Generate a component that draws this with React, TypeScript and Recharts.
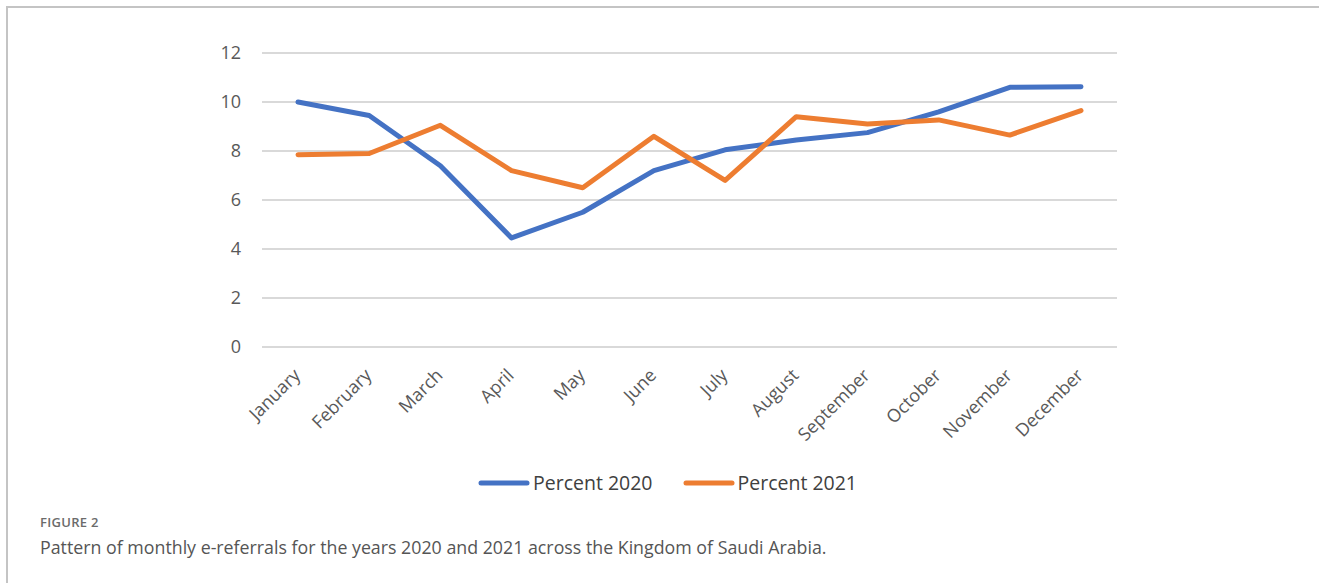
import React from "react";
import { LineChart, Line, XAxis, YAxis, CartesianGrid, Legend } from "recharts";

const months = [
  "January", "February", "March", "April", "May", "June",
  "July", "August", "September", "October", "November", "December",
];
const percent2020 = [10.0, 9.45, 7.4, 4.45, 5.5, 7.2, 8.05, 8.45, 8.75, 9.6, 10.6, 10.62];
const percent2021 = [7.85, 7.9, 9.05, 7.2, 6.5, 8.6, 6.8, 9.4, 9.1, 9.27, 8.65, 9.65];
const yTicks = [0, 2, 4, 6, 8, 10, 12];

const data = months.map((m, i) => ({
  month: m,
  p2020: percent2020[i],
  p2021: percent2021[i],
}));

const FONT = "'Open Sans', 'DejaVu Sans', sans-serif";

const XTick = (props: any) => {
  const { x, y, payload } = props;
  return (
    <g transform={`translate(${x - 1},${y + 25})`}>
      <text
        textAnchor="end"
        transform="rotate(-45)"
        fill="#595959"
        fontSize={18}
        fontFamily={FONT}
        dy="0.35em"
      >
        {payload.value}
      </text>
    </g>
  );
};

const LegendContent = (props: any) => {
  const { payload } = props;
  return (
    <div
      style={{
        display: "flex",
        justifyContent: "center",
        alignItems: "center",
        paddingLeft: 16,
        fontFamily: FONT,
        fontSize: 19.5,
        color: "#404040",
      }}
    >
      {(payload || []).map((entry: any, i: number) => (
        <div key={i} style={{ display: "flex", alignItems: "center", marginRight: i === 0 ? 30 : 0 }}>
          <svg width={52} height={8} style={{ marginRight: 3 }}>
            <line x1={3} y1={4} x2={49} y2={4} stroke={entry.color} strokeWidth={5} strokeLinecap="round" />
          </svg>
          <span>{entry.value}</span>
        </div>
      ))}
    </div>
  );
};

export default function App() {
  return (
    <div style={{ position: "absolute", left: 0, top: 0, width: 1319, height: 583, background: "#fff", overflow: "hidden" }}>
      <div
        style={{
          position: "absolute",
          left: 6,
          top: 6,
          right: 0,
          bottom: 0,
          borderTop: "2px solid #c4c4c4",
          borderLeft: "2px solid #c4c4c4",
        }}
      />
      <div style={{ position: "absolute", left: 0, top: 0 }}>
        <LineChart
          width={1319}
          height={500}
          data={data}
          margin={{ top: 53, right: 202, left: 0, bottom: 0 }}
        >
          <CartesianGrid vertical={false} stroke="#d9d9d9" strokeWidth={2} />
          <XAxis
            dataKey="month"
            axisLine={false}
            tickLine={false}
            tickSize={0}
            tickMargin={0}
            interval={0}
            height={153}
            padding={{ left: 36, right: 36 }}
            tick={<XTick />}
          />
          <YAxis
            domain={[0, 12]}
            ticks={yTicks}
            axisLine={false}
            tickLine={false}
            tickSize={0}
            tickMargin={21}
            width={262}
            tick={{ fill: "#595959", fontSize: 18, fontFamily: FONT }}
          />
          <Legend
            layout="horizontal"
            verticalAlign="middle"
            align="center"
            content={<LegendContent />}
            wrapperStyle={{ top: 469, left: 0, width: 1319, height: 26 }}
          />
          <Line
            name="Percent 2020"
            dataKey="p2020"
            stroke="#4472C4"
            strokeWidth={5}
            dot={false}
            activeDot={false}
            strokeLinecap="round"
            strokeLinejoin="round"
            isAnimationActive={false}
          />
          <Line
            name="Percent 2021"
            dataKey="p2021"
            stroke="#ED7D31"
            strokeWidth={5}
            dot={false}
            activeDot={false}
            strokeLinecap="round"
            strokeLinejoin="round"
            isAnimationActive={false}
          />
        </LineChart>
      </div>
      <div
        style={{
          position: "absolute",
          left: 40,
          top: 513,
          fontFamily: FONT,
          fontSize: 13,
          fontWeight: 600,
          color: "#6b6b6b",
          letterSpacing: 0.3,
        }}
      >
        FIGURE 2
      </div>
      <div
        style={{
          position: "absolute",
          left: 40,
          top: 535,
          fontFamily: FONT,
          fontSize: 17.8,
          color: "#555",
        }}
      >
        Pattern of monthly e-referrals for the years 2020 and 2021 across the Kingdom of Saudi Arabia.
      </div>
    </div>
  );
}
